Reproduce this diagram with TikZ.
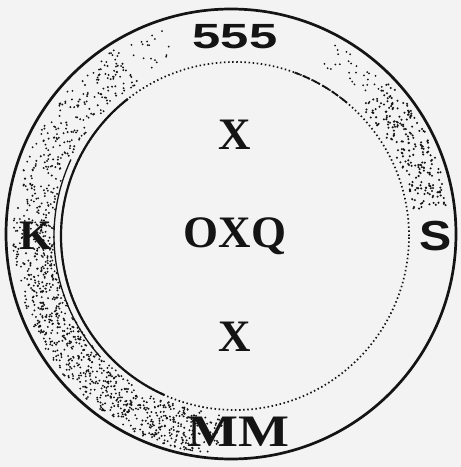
\documentclass[tikz,border=0pt]{standalone}
\usepackage{fontspec}
\setmainfont{Liberation Serif}
\newfontfamily\sansb{Liberation Sans}
\definecolor{bgc}{RGB}{243,243,243}
\definecolor{ink}{RGB}{20,20,20}
\tikzset{
  lbl/.style={text=ink, inner sep=0pt, font=\bfseries\fontsize{45}{45}\selectfont},
  outerring/.style={draw=ink, line width=2.7pt},
  innerdots/.style={draw=ink, line width=1.7pt, dash pattern=on 1.5pt off 2.6pt},
  innersolid/.style={draw=ink, line width=2.2pt},
  stipple/.style={fill=ink}
}
\begin{document}
\begin{tikzpicture}[x=1pt,y=1pt]
\fill[bgc] (0,0) rectangle (461,467);
\useasboundingbox (0,0) rectangle (461,467);
% centres
\coordinate (oc) at (231,233);
\coordinate (ic) at (235,231);
% stipple
\pgfmathsetseed{11}
\begin{scope}[shift={(233,232)}]
\foreach \i in {1,...,700}{
  \pgfmathsetmacro\a{122+145*rnd}
  \pgfmathsetmacro\r{179+41*rnd}
  \fill[stipple] (\a:\r) circle (1.05);
}
\foreach \i in {1,...,450}{
  \pgfmathsetmacro\a{175+85*rnd}
  \pgfmathsetmacro\r{179+41*rnd}
  \fill[stipple] (\a:\r) circle (1.05);
}
\foreach \i in {1,...,240}{
  \pgfmathsetmacro\a{8+37*rnd}
  \pgfmathsetmacro\r{181+37*rnd}
  \fill[stipple] (\a:\r) circle (1.15);
}
\foreach \i in {1,...,30}{
  \pgfmathsetmacro\a{44+18*rnd}
  \pgfmathsetmacro\r{190+28*rnd}
  \fill[stipple] (\a:\r) circle (1);
}
\foreach \i in {1,...,20}{
  \pgfmathsetmacro\a{108+16*rnd}
  \pgfmathsetmacro\r{185+35*rnd}
  \fill[stipple] (\a:\r) circle (1);
}
\end{scope}
% circles
\draw[outerring] (oc) circle (225);
\draw[innerdots] (ic) circle (174);
\draw[innersolid] ([shift={(128:174)}]ic) arc (128:246:174);
\draw[innersolid, line width=1.3pt] ([shift={(155:181)}]ic) arc (155:222:181);
\draw[innersolid, line width=1.8pt, dash pattern=on 8pt off 3pt] ([shift={(50:174)}]ic) arc (50:70:174);
% labels
\node[lbl, font=\sansb\bfseries\fontsize{35}{35}\selectfont, xscale=1.45] (n555) at (235,430) {555};
\node[lbl] (xtop) at (235,332) {X};
\node[lbl] (oxq) at (235,231) {OXQ};
\node[lbl] (xbot) at (235,130) {X};
\node[lbl, font=\bfseries\fontsize{42}{42}\selectfont] (k) at (36,231) {K};
\node[lbl, font=\sansb\bfseries\fontsize{42}{42}\selectfont, xscale=1.15] (s) at (436,231) {S};
\node[lbl, xscale=1.2] (mm) at (238,35) {MM};
\end{tikzpicture}
\end{document}
